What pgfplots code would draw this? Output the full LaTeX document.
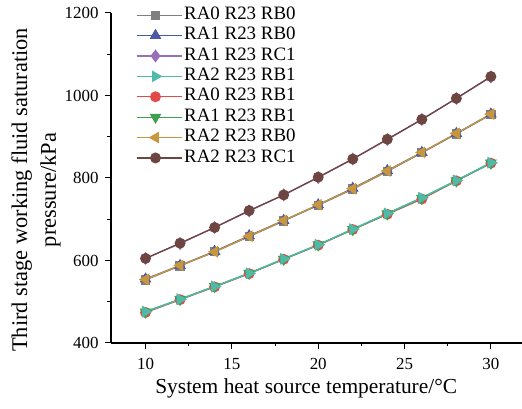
\documentclass[border=0pt]{standalone}
\usepackage{pgfplots}
\pgfplotsset{compat=1.18}
\usepackage{fontspec}
\setmainfont{Liberation Serif}
\newfontfamily\tnr{Liberation Serif}
\definecolor{cgray}{HTML}{7F7F7F}
\definecolor{cblue}{HTML}{4A5AA8}
\definecolor{cpurple}{HTML}{9A6FB8}
\definecolor{cteal}{HTML}{4FBAA8}
\definecolor{cred}{HTML}{E24A4A}
\definecolor{cgreen}{HTML}{40A050}
\definecolor{cgold}{HTML}{C8963C}
\definecolor{cbrown}{HTML}{6E4641}
\begin{document}
\begin{tikzpicture}
\begin{axis}[
  scale only axis,
  width=411bp, height=330bp,
  xmin=8, xmax=31.8, ymin=400, ymax=1200,
  axis x line=bottom, axis y line=left,
  axis line style={-, line width=1.1bp, black},
  xtick={10,15,20,25,30}, ytick={400,600,800,1000,1200},
  minor x tick num=1, minor y tick num=1,
  tick align=outside,
  major tick length=6bp, minor tick length=3.5bp,
  tick style={line width=1bp, black},
  /pgf/number format/assume math mode=true,
  /pgf/number format/1000 sep={},
  tick label style={font=\tnr\fontsize{17}{20}\selectfont},
  xticklabel style={yshift=-6bp},
  yticklabel style={xshift=-3bp},
  xlabel={System heat source temperature/°C},
  xlabel style={font=\tnr\fontsize{21.5}{28}\selectfont, at={(ticklabel cs:0.475)}, yshift=-2bp},
  ylabel={Third stage working fluid saturation\\pressure/kPa},
  ylabel style={font=\tnr\fontsize{22.5}{29}\selectfont, align=center, at={(ticklabel cs:0.464,-3bp)}},
  every axis plot/.append style={line width=1.3bp},
  legend style={draw=none, fill=none, at={(0.06,1.025)}, anchor=north west,
    font=\tnr\fontsize{19}{20}\selectfont, inner sep=0pt,
    nodes={inner sep=2bp, text height=12.4bp, text depth=4bp}},
  legend cell align=left,
  legend image code/.code={\draw[mark repeat=2,mark phase=2] plot coordinates {(0bp,0bp)(19bp,0bp)(38bp,0bp)}; \path (0bp,0bp) -- (45bp,0bp);},
]
\addplot[cgray, mark=square*, mark size=4bp] coordinates {(10,553)(12,587)(14,621)(16,658)(18,696)(20,734)(22,773)(24,816)(26,861)(28,907)(30,954)};
\addlegendentry{RA0 R23 RB0}
\addplot[cblue, mark=triangle*, mark size=5.5bp] coordinates {(10,555)(12,588)(14,622)(16,660)(18,697)(20,735)(22,775)(24,818)(26,862)(28,908)(30,955)};
\addlegendentry{RA1 R23 RB0}
\addplot[cpurple, mark=diamond*, mark size=5.5bp] coordinates {(10,605)(12,641)(14,680)(16,720)(18,759)(20,801)(22,846)(24,893)(26,942)(28,993)(30,1045)};
\addlegendentry{RA1 R23 RC1}
\addplot[cteal, mark=triangle*, mark options={rotate=-90}, mark size=5.5bp] coordinates {(10,476)(12,506)(14,537)(16,569)(18,604)(20,638)(22,676)(24,714)(26,752)(28,794)(30,837)};
\addlegendentry{RA2 R23 RB1}
\addplot[cred, mark=*, mark size=4.8bp] coordinates {(10,474)(12,505)(14,536)(16,568)(18,603)(20,637)(22,675)(24,712)(26,749)(28,793)(30,836)};
\addlegendentry{RA0 R23 RB1}
\addplot[cgreen, mark=triangle*, mark options={rotate=180}, mark size=5.5bp] coordinates {(10,475)(12,506)(14,537)(16,569)(18,603)(20,638)(22,675)(24,713)(26,751)(28,793)(30,836)};
\addlegendentry{RA1 R23 RB1}
\addplot[cgold, mark=triangle*, mark options={rotate=90}, mark size=5.5bp] coordinates {(10,554)(12,588)(14,621)(16,659)(18,697)(20,735)(22,774)(24,817)(26,862)(28,908)(30,955)};
\addlegendentry{RA2 R23 RB0}
\addplot[cbrown, mark=*, mark size=4.8bp] coordinates {(10,605)(12,642)(14,680)(16,721)(18,759)(20,802)(22,846)(24,894)(26,942)(28,993)(30,1046)};
\addlegendentry{RA2 R23 RC1}
\addplot[cteal, mark=triangle*, mark options={rotate=-90}, mark size=5.5bp, forget plot] coordinates {(10,476)(12,506)(14,537)(16,569)(18,604)(20,638)(22,676)(24,714)(26,752)(28,794)(30,837)};
\end{axis}
\pgfresetboundingbox
\path[use as bounding box] ([xshift=-111bp,yshift=-66bp]current axis.south west) rectangle ([yshift=13bp]current axis.north east);
\end{tikzpicture}
\end{document}
